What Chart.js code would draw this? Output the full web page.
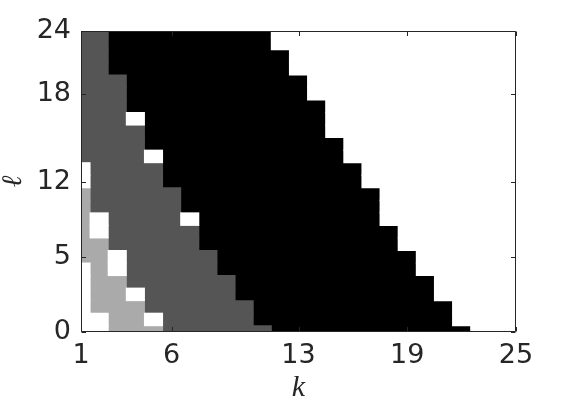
<!DOCTYPE html>
<html>
<head>
<meta charset="utf-8">
<script src="https://cdn.jsdelivr.net/npm/chart.js@4.4.1/dist/chart.umd.min.js"></script>
<style>
  html, body { margin: 0; padding: 0; background: #ffffff; }
  canvas { display: block; }
</style>
</head>
<body>
<canvas id="chart" width="570" height="408"></canvas>
<script>
// ---- data ----
// columns k = 1..25
const kValues = [1,2,3,4,5,6,7,8,9,10,11,12,13,14,15,16,17,18,19,20,21,22,23,24,25];
// rows (bottom to top) = row index 0..24
const rowIndex = [0,1,2,3,4,5,6,7,8,9,10,11,12,13,14,15,16,17,18,19,20,21,22,23,24];
// level of each cell: 0 = white, 1 = light gray, 2 = dark gray, 3 = black
const levels = [
  [0,0,1,1,1,2,2,2,2,2,2,3,3,3,3,3,3,3,3,3,3,3,0,0,0], // row 0
  [0,0,1,1,0,2,2,2,2,2,3,3,3,3,3,3,3,3,3,3,3,0,0,0,0], // row 1
  [0,1,1,1,2,2,2,2,2,2,3,3,3,3,3,3,3,3,3,3,3,0,0,0,0], // row 2
  [0,1,1,0,2,2,2,2,2,3,3,3,3,3,3,3,3,3,3,3,0,0,0,0,0], // row 3
  [0,1,1,2,2,2,2,2,2,3,3,3,3,3,3,3,3,3,3,3,0,0,0,0,0], // row 4
  [0,1,0,2,2,2,2,2,3,3,3,3,3,3,3,3,3,3,3,0,0,0,0,0,0], // row 5
  [1,1,0,2,2,2,2,2,3,3,3,3,3,3,3,3,3,3,3,0,0,0,0,0,0], // row 6
  [1,1,2,2,2,2,2,3,3,3,3,3,3,3,3,3,3,3,0,0,0,0,0,0,0], // row 7
  [1,0,2,2,2,2,2,3,3,3,3,3,3,3,3,3,3,3,0,0,0,0,0,0,0], // row 8
  [1,0,2,2,2,2,0,3,3,3,3,3,3,3,3,3,3,0,0,0,0,0,0,0,0], // row 9
  [1,2,2,2,2,2,3,3,3,3,3,3,3,3,3,3,3,0,0,0,0,0,0,0,0], // row 10
  [1,2,2,2,2,2,3,3,3,3,3,3,3,3,3,3,3,0,0,0,0,0,0,0,0], // row 11
  [0,2,2,2,2,3,3,3,3,3,3,3,3,3,3,3,0,0,0,0,0,0,0,0,0], // row 12
  [0,2,2,2,2,3,3,3,3,3,3,3,3,3,3,3,0,0,0,0,0,0,0,0,0], // row 13
  [2,2,2,2,0,3,3,3,3,3,3,3,3,3,3,0,0,0,0,0,0,0,0,0,0], // row 14
  [2,2,2,2,3,3,3,3,3,3,3,3,3,3,3,0,0,0,0,0,0,0,0,0,0], // row 15
  [2,2,2,2,3,3,3,3,3,3,3,3,3,3,0,0,0,0,0,0,0,0,0,0,0], // row 16
  [2,2,2,0,3,3,3,3,3,3,3,3,3,3,0,0,0,0,0,0,0,0,0,0,0], // row 17
  [2,2,2,3,3,3,3,3,3,3,3,3,3,3,0,0,0,0,0,0,0,0,0,0,0], // row 18
  [2,2,2,3,3,3,3,3,3,3,3,3,3,0,0,0,0,0,0,0,0,0,0,0,0], // row 19
  [2,2,2,3,3,3,3,3,3,3,3,3,3,0,0,0,0,0,0,0,0,0,0,0,0], // row 20
  [2,2,3,3,3,3,3,3,3,3,3,3,0,0,0,0,0,0,0,0,0,0,0,0,0], // row 21
  [2,2,3,3,3,3,3,3,3,3,3,3,0,0,0,0,0,0,0,0,0,0,0,0,0], // row 22
  [2,2,3,3,3,3,3,3,3,3,3,0,0,0,0,0,0,0,0,0,0,0,0,0,0], // row 23
  [2,2,3,3,3,3,3,3,3,3,3,0,0,0,0,0,0,0,0,0,0,0,0,0,0]  // row 24
];
const levelColors = ['#ffffff', '#aaaaaa', '#555555', '#000000'];
const xTickValues = [1, 6, 13, 19, 25];
const yTickPositions = [0, 6, 12, 19, 24];
const yTickLabels = ['0', '5', '12', '18', '24'];
const xTitle = 'k';
const yTitle = 'ℓ';

// ---- build bar datasets (one per level, runs of equal cells per row) ----
const datasets = levelColors.map(c => ({
  data: [],
  backgroundColor: c,
  borderWidth: 0,
  grouped: false,
  barPercentage: 1,
  categoryPercentage: 1,
  inflateAmount: 0.5,
  clip: 0
}));
levels.forEach((row, j) => {
  let s = 0;
  for (let i = 1; i <= row.length; i++) {
    if (i === row.length || row[i] !== row[s]) {
      datasets[row[s]].data.push({ y: rowIndex[j], x: [kValues[s] - 0.5, kValues[i - 1] + 0.5] });
      s = i;
    }
  }
});

const axisColor = '#262626';
const tickLen = 4.5;

const framePlugin = {
  id: 'frame',
  afterDatasetsDraw(chart) {
    const { ctx, chartArea: a, scales } = chart;
    const L = a.left + 0.5, R = a.right - 0.5, T = a.top + 0.5, B = a.bottom - 0.5;
    ctx.save();
    ctx.strokeStyle = axisColor;
    ctx.lineWidth = 1;
    ctx.beginPath();
    ctx.rect(L, T, R - L, B - T);
    xTickValues.forEach(v => {
      const px = Math.round(scales.x.getPixelForValue(v)) + 0.5;
      ctx.moveTo(px, B); ctx.lineTo(px, B - tickLen);
      ctx.moveTo(px, T); ctx.lineTo(px, T + tickLen);
    });
    yTickPositions.forEach(v => {
      const py = Math.round(scales.y.getPixelForValue(v)) + 0.5;
      ctx.moveTo(L, py); ctx.lineTo(L + tickLen, py);
      ctx.moveTo(R, py); ctx.lineTo(R - tickLen, py);
    });
    ctx.stroke();
    ctx.restore();
  }
};

new Chart(document.getElementById('chart').getContext('2d'), {
  type: 'bar',
  data: { datasets },
  options: {
    indexAxis: 'y',
    responsive: false,
    animation: false,
    devicePixelRatio: 1,
    layout: { padding: { left: 0, top: 31, right: 54, bottom: 0 } },
    plugins: { legend: { display: false }, tooltip: { enabled: false } },
    scales: {
      x: {
        type: 'linear',
        min: 1, max: 25,
        afterBuildTicks: s => { s.ticks = xTickValues.map(v => ({ value: v })); },
        afterFit: s => { s.height = 76; },
        grid: { display: false, drawTicks: false },
        border: { display: false },
        ticks: {
          autoSkip: false, maxRotation: 0, padding: 8,
          color: axisColor,
          font: { family: 'DejaVu Sans', size: 27 },
          callback: v => String(v)
        },
        title: {
          display: true, text: xTitle, color: axisColor,
          font: { family: 'Liberation Serif', style: 'italic', size: 30, lineHeight: 1 },
          padding: { top: 0, bottom: 5 }
        }
      },
      y: {
        type: 'linear',
        min: 0, max: 24,
        offset: false,
        afterBuildTicks: s => { s.ticks = yTickPositions.map(v => ({ value: v })); },
        afterFit: s => { s.width = 81; },
        grid: { display: false, drawTicks: false },
        border: { display: false },
        ticks: {
          autoSkip: false, padding: 10,
          color: axisColor,
          font: { family: 'DejaVu Sans', size: 27 },
          callback: (v, i) => yTickLabels[i]
        },
        title: {
          display: true, text: yTitle, color: axisColor,
          font: { family: 'Liberation Serif', style: 'italic', size: 28, lineHeight: 1 },
          padding: { top: 0, bottom: 0 }
        }
      }
    }
  },
  plugins: [framePlugin]
});
</script>
</body>
</html>
